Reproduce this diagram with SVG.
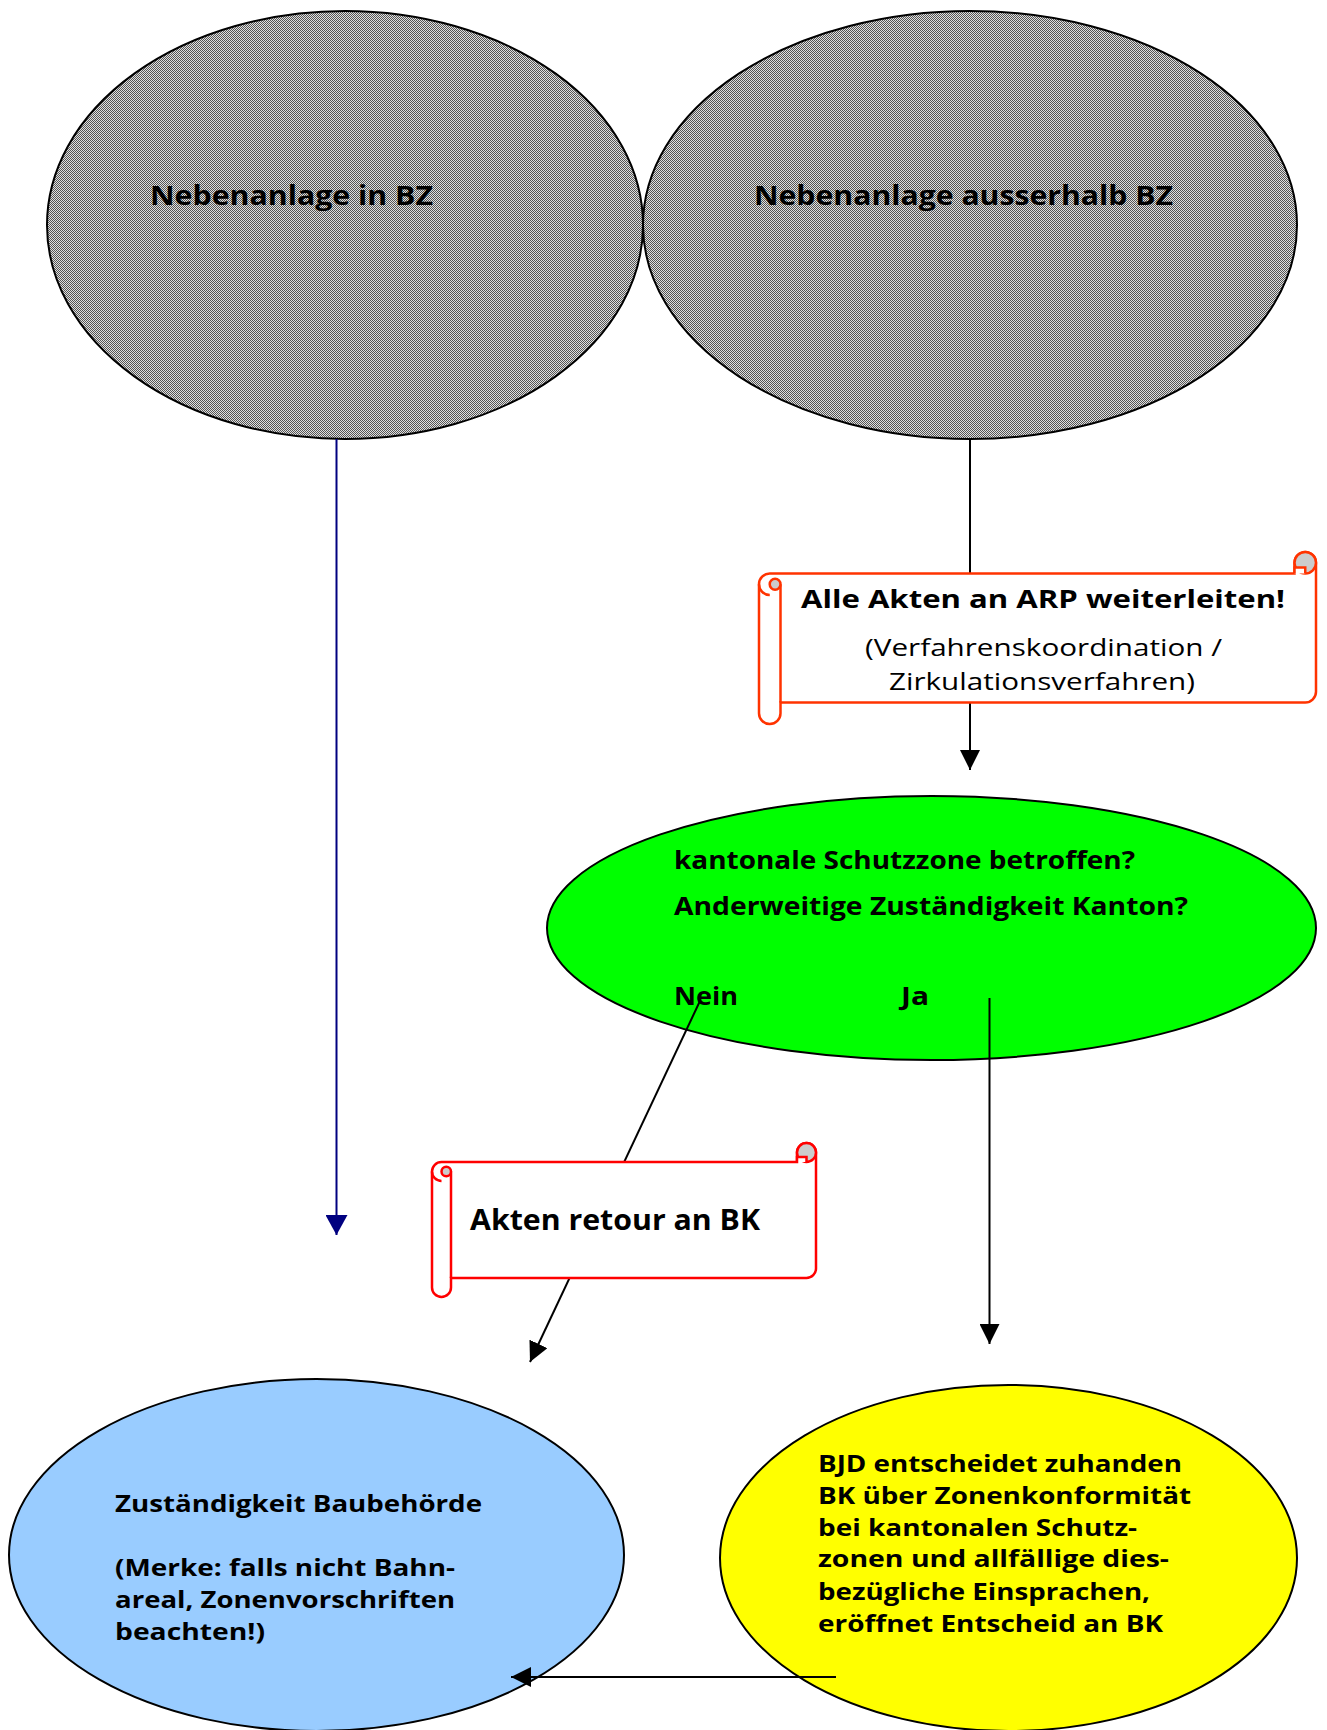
<svg xmlns="http://www.w3.org/2000/svg" width="1327" height="1730" viewBox="0 0 1327 1730">
<defs>
<pattern id="hatch" width="2" height="2" patternUnits="userSpaceOnUse">
<rect width="2" height="2" fill="#e0e0e0"/>
<rect x="0" y="0" width="1" height="1" fill="#555555"/>
<rect x="1" y="1" width="1" height="1" fill="#555555"/>
</pattern>
<marker id="ah" markerUnits="userSpaceOnUse" markerWidth="20" markerHeight="20" refX="20" refY="10" orient="auto">
<path d="M0,0 L20,10 L0,20 Z" fill="#000000"/>
</marker>
<marker id="ahb" markerUnits="userSpaceOnUse" markerWidth="20" markerHeight="22" refX="20" refY="11" orient="auto">
<path d="M0,0 L20,11 L0,22 Z" fill="#000080"/>
</marker>
</defs>
<style>
.t{font-family:"Open Sans","Liberation Sans",sans-serif;font-weight:bold;fill:#000;}
.r{font-family:"Open Sans","Liberation Sans",sans-serif;font-weight:normal;fill:#000;}
.el{stroke:#000;stroke-width:2;}
.c{stroke:#000;stroke-width:2;fill:none;}
.s1{stroke:#ff3300;stroke-width:2.5;}
.s2{stroke:#ff0000;stroke-width:2.5;}
</style>

<g id="node-in-bz">
<ellipse class="el" cx="345" cy="225" rx="298" ry="214" fill="url(#hatch)"/>
<text class="t" x="150" y="205" font-size="26" textLength="283" lengthAdjust="spacingAndGlyphs">Nebenanlage in BZ</text>
</g>
<g id="node-ausserhalb-bz">
<ellipse class="el" cx="970" cy="225" rx="327" ry="214" fill="url(#hatch)"/>
<text class="t" x="754" y="205" font-size="26" textLength="419" lengthAdjust="spacingAndGlyphs">Nebenanlage ausserhalb BZ</text>
</g>
<g id="node-schutzzone">
<ellipse class="el" cx="931.5" cy="928" rx="384.5" ry="132" fill="#00ff00"/>
<text class="t" x="674" y="869" font-size="25" textLength="461" lengthAdjust="spacingAndGlyphs">kantonale Schutzzone betroffen?</text>
<text class="t" x="674" y="915" font-size="25" textLength="514" lengthAdjust="spacingAndGlyphs">Anderweitige Zuständigkeit Kanton?</text>
<text class="t" x="674" y="1005" font-size="25" textLength="64" lengthAdjust="spacingAndGlyphs">Nein</text>
<text class="t" x="901" y="1005" font-size="25" textLength="28" lengthAdjust="spacingAndGlyphs">Ja</text>
</g>
<g id="node-baubehoerde">
<ellipse class="el" cx="316.5" cy="1555" rx="307.5" ry="176" fill="#99ccff"/>
<text class="t" x="115" y="1512" font-size="24" textLength="367" lengthAdjust="spacingAndGlyphs">Zuständigkeit Baubehörde</text>
<text class="t" x="115" y="1576" font-size="24" textLength="340" lengthAdjust="spacingAndGlyphs">(Merke: falls nicht Bahn-</text>
<text class="t" x="115" y="1608" font-size="24" textLength="340" lengthAdjust="spacingAndGlyphs">areal, Zonenvorschriften</text>
<text class="t" x="115" y="1640" font-size="24" textLength="150" lengthAdjust="spacingAndGlyphs">beachten!)</text>
</g>
<g id="node-bjd">
<ellipse class="el" cx="1008.5" cy="1558" rx="288.5" ry="173" fill="#ffff00"/>
<text class="t" x="818" y="1472" font-size="24" textLength="364" lengthAdjust="spacingAndGlyphs">BJD entscheidet zuhanden</text>
<text class="t" x="818" y="1504" font-size="24" textLength="373" lengthAdjust="spacingAndGlyphs">BK über Zonenkonformität</text>
<text class="t" x="818" y="1536" font-size="24" textLength="319" lengthAdjust="spacingAndGlyphs">bei kantonalen Schutz-</text>
<text class="t" x="818" y="1567" font-size="24" textLength="351" lengthAdjust="spacingAndGlyphs">zonen und allfällige dies-</text>
<text class="t" x="818" y="1600" font-size="24" textLength="332" lengthAdjust="spacingAndGlyphs">bezügliche Einsprachen,</text>
<text class="t" x="818" y="1632" font-size="24" textLength="345" lengthAdjust="spacingAndGlyphs">eröffnet Entscheid an BK</text>
</g>

<g id="connectors">
<line x1="336.5" y1="439" x2="336.5" y2="1235" stroke="#000080" stroke-width="2" marker-end="url(#ahb)"/>
<line class="c" x1="970" y1="439" x2="970" y2="770" marker-end="url(#ah)"/>
<line class="c" x1="699.5" y1="1002" x2="530" y2="1362" marker-end="url(#ah)"/>
<line class="c" x1="989.5" y1="998" x2="989.5" y2="1344" marker-end="url(#ah)"/>
<line class="c" x1="836" y1="1677" x2="511" y2="1677" marker-end="url(#ah)"/>
</g>

<g id="node-arp-scroll">
<path class="s1" fill="#ffffff" d="M759,584.25 A10.75,10.75 0 0 1 769.75,573.5 L1294.5,573.5 L1294.5,562.75 A10.75,10.75 0 0 1 1316,562.75 L1316,691.75 A10.75,10.75 0 0 1 1305.25,702.5 L780.5,702.5 L780.5,713.25 A10.75,10.75 0 0 1 759,713.25 Z"/>
<path class="s1" fill="none" d="M780.5,584.25 L780.5,702.5 M759,584.25 A10.75,10.75 0 0 0 769.75,595"/>
<circle class="s1" cx="775.1" cy="584.25" r="5.4" fill="#cccccc"/>
<circle class="s1" cx="1305.25" cy="562.75" r="10.75" fill="#cccccc"/>
<path class="s1" fill="#ffffff" d="M1294.5,573.5 L1294.5,567.4 L1305.25,567.4 L1305.25,573.5"/>
<text class="t" x="801" y="608" font-size="25" textLength="484" lengthAdjust="spacingAndGlyphs">Alle Akten an ARP weiterleiten!</text>
<text class="r" x="865" y="656" font-size="23" textLength="357" lengthAdjust="spacingAndGlyphs">(Verfahrenskoordination /</text>
<text class="r" x="889" y="690" font-size="23" textLength="306" lengthAdjust="spacingAndGlyphs">Zirkulationsverfahren)</text>
</g>

<g id="node-retour-scroll">
<path class="s2" fill="#ffffff" d="M432,1171.5 A9.5,9.5 0 0 1 441.5,1162 L797,1162 L797,1152.5 A9.5,9.5 0 0 1 816,1152.5 L816,1268.5 A9.5,9.5 0 0 1 806.5,1278 L451,1278 L451,1287.5 A9.5,9.5 0 0 1 432,1287.5 Z"/>
<path class="s2" fill="none" d="M451,1171.5 L451,1278 M432,1171.5 A9.5,9.5 0 0 0 441.5,1181"/>
<circle class="s2" cx="446.25" cy="1171.5" r="4.75" fill="#cccccc"/>
<circle class="s2" cx="806.5" cy="1152.5" r="9.5" fill="#cccccc"/>
<path class="s2" fill="#ffffff" d="M797,1162 L797,1157 L806.5,1157 L806.5,1162"/>
<text class="t" x="470" y="1230" font-size="28" textLength="290" lengthAdjust="spacingAndGlyphs">Akten retour an BK</text>
</g>
</svg>
